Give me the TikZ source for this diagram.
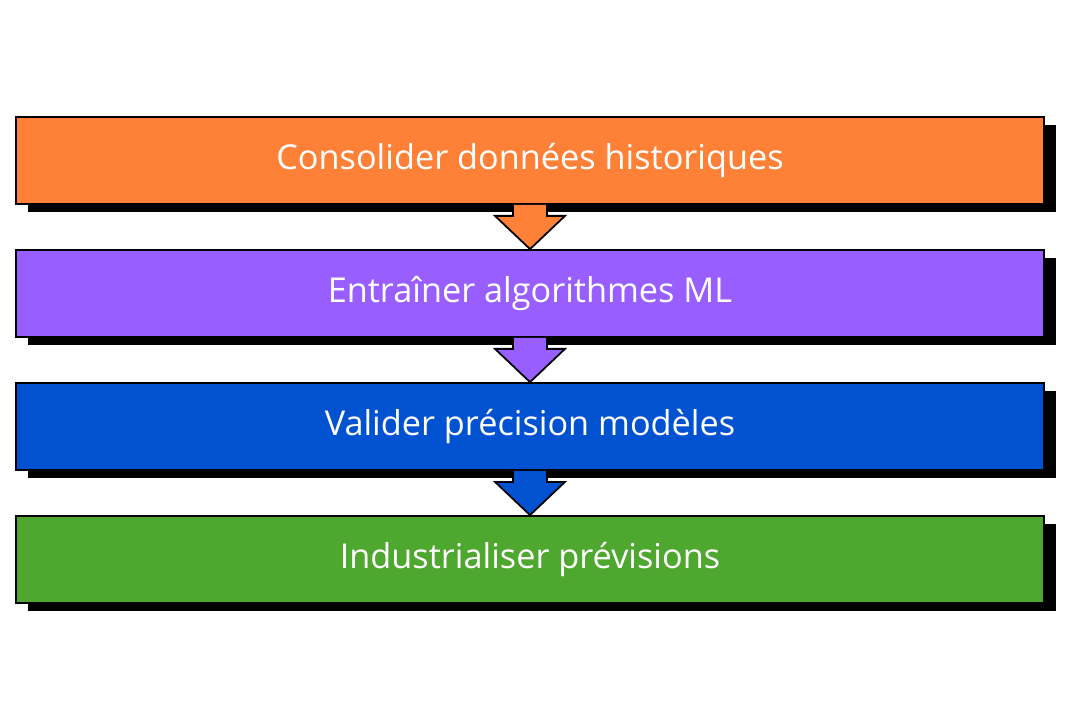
\documentclass[tikz,border=0pt]{standalone}
\usepackage{fontspec}
\setmainfont{Open Sans}
\usetikzlibrary{positioning,calc}
\definecolor{stepA}{HTML}{FF8138}
\definecolor{stepB}{HTML}{995EFF}
\definecolor{stepC}{HTML}{0052D1}
\definecolor{stepD}{HTML}{4EA72E}
\tikzset{
  step/.style={draw=black, line width=1pt, fill=#1, text=white, minimum width=20.56cm,
    minimum height=1.74cm, inner sep=0pt, font=\fontsize{19.5}{23}\selectfont},
  shade/.style={fill=black, minimum width=20.56cm, minimum height=1.74cm, inner sep=0pt},
}
\newcommand{\steparrow}[3]{% from, to, colour
  \fill[#3] ($(#1.south)+(-0.34,0)$) -- ($(#1.south)+(-0.34,-0.22)$) -- ($(#1.south)+(-0.7,-0.22)$)
    -- (#2.north) -- ($(#1.south)+(0.7,-0.22)$) -- ($(#1.south)+(0.34,-0.22)$) -- ($(#1.south)+(0.34,0)$) -- cycle;
  \draw[line width=1pt, line join=miter] ($(#1.south)+(-0.34,0)$) -- ($(#1.south)+(-0.34,-0.22)$) -- ($(#1.south)+(-0.7,-0.22)$)
    -- (#2.north) -- ($(#1.south)+(0.7,-0.22)$) -- ($(#1.south)+(0.34,-0.22)$) -- ($(#1.south)+(0.34,0)$);
}
\begin{document}
\begin{tikzpicture}
  \useasboundingbox (0,0) rectangle (21.6,14.4);
  % shadows
  \foreach \y in {11.03,8.37,5.71,3.05}
    \node[shade] at (10.84,\y) {};
  % steps
  \node[step=stepA] (consolider) at (10.6,11.19) {Consolider données historiques};
  \node[step=stepB] (entrainer) at (10.6,8.53) {Entraîner algorithmes ML};
  \node[step=stepC] (valider) at (10.6,5.87) {Valider précision modèles};
  \node[step=stepD] (industrialiser) at (10.6,3.21) {Industrialiser prévisions};
  % arrows
  \steparrow{consolider}{entrainer}{stepA}
  \steparrow{entrainer}{valider}{stepB}
  \steparrow{valider}{industrialiser}{stepC}
\end{tikzpicture}
\end{document}
